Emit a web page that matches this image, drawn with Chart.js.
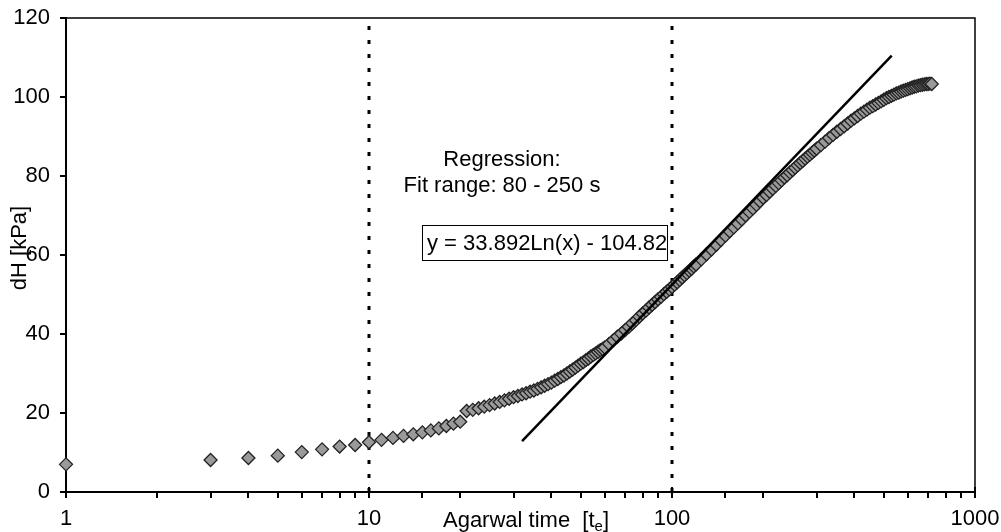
<!DOCTYPE html>
<html>
<head>
<meta charset="utf-8">
<script src="https://cdn.jsdelivr.net/npm/chart.js@4/dist/chart.umd.min.js"></script>
<style>
  html, body { margin: 0; padding: 0; background: #fff; }
  #wrap { width: 1001px; height: 532px; position: relative; }
</style>
</head>
<body>
<div id="wrap"><canvas id="c" width="1001" height="532"></canvas></div>
<script>
// ---- data ----
const times = [1,3,4,5,6,7,8,9,10,11,12,13,14,15,16,17,18,19,20,21,22,23,24,25,26,27,28,29,30,
  31,32,33,34,35,36,37,38,39,40,41,42,43,44,45,46,47,48,49,50,51,52,53,54,55,56,57,58,59,60,
  62,64,66,68,70,72,74,76,78,80,82,84,86,88,90,92,94,96,98,100,102,104,106,108,110,112,114,116,118,120,
  125,130,135,140,145,150,155,160,165,170,175,180,185,190,195,200,205,210,215,220,225,230,235,240,245,250,255,260,265,270,275,280,285,290,295,300,
  310,320,330,340,350,360,370,380,390,400,410,420,430,440,450,460,470,480,490,500,510,520,530,540,550,560,570,580,590,600,610,620,630,640,650,660,670,680,690,700,710,720];
const dH = [7.0,8.1,8.6,9.2,10.1,10.8,11.5,11.9,12.6,
  13.2,13.7,14.2,14.6,15.1,15.6,16.1,16.7,17.3,17.8,
  20.5,20.8,21.2,21.6,22.0,22.4,22.8,23.2,23.6,24.0,
  24.3,24.7,25.0,25.4,25.7,26.1,26.5,26.9,27.3,27.7,28.2,28.6,29.1,29.5,30.0,30.5,31.0,31.5,32.0,32.5,32.9,33.4,33.8,34.3,34.7,35.1,35.5,35.9,36.2,36.6,
  37.5,38.4,39.3,40.1,41.0,41.8,42.7,43.5,44.4,45.2,45.9,46.7,47.4,48.1,48.8,49.4,50.1,50.7,51.3,51.9,52.5,53.1,53.7,54.3,54.9,55.4,56.0,56.5,57.1,57.6,
  58.9,60.2,61.4,62.6,63.8,64.9,66.0,67.0,68.0,69.0,70.0,70.9,71.8,72.7,73.6,74.5,75.2,76.0,76.8,77.5,78.2,78.9,79.6,80.2,80.9,81.5,82.1,82.7,83.3,83.8,84.4,84.9,85.4,85.9,86.4,86.9,
  87.8,88.7,89.6,90.4,91.2,91.9,92.6,93.3,94.0,94.6,95.2,95.8,96.3,96.8,97.3,97.7,98.1,98.5,98.9,99.3,99.7,100.0,100.3,100.6,100.9,101.1,101.4,101.6,101.8,102.0,102.2,102.4,102.6,102.7,102.9,103.0,103.1,103.2,103.3,103.3,103.4,103.3];
// regression trend line end points (as drawn)
const fitT = [32, 531];
const fitDH = [12.9, 110.5];
// vertical fit-range marker lines
const markerT = [10, 100];
const markerDH = [0, 120];
// axis ticks and labels
const xMajor = [1, 10, 100, 1000];
const xTickLabels = ['1', '10', '100', '1000'];
const yTicks = [0, 20, 40, 60, 80, 100, 120];
const yTitle = 'dH [kPa]';
const xTitleMain = 'Agarwal time  [t';
const xTitleSub = 'e';
const xTitleEnd = ']';
const noteLines = ['Regression:', 'Fit range: 80 - 250 s'];
const equation = 'y = 33.892Ln(x) - 104.82';

const FONT = '"Liberation Sans", Arial, sans-serif';

const seriesPts = times.map((t, i) => ({ x: t, y: dH[i] }));
const fitPts = fitT.map((t, i) => ({ x: t, y: fitDH[i] }));
const markerSets = markerT.map(t => markerDH.map(v => ({ x: t, y: v })));

const annot = {
  id: 'annot',
  afterDraw(chart) {
    const ctx = chart.ctx;
    const area = chart.chartArea;
    const xs = chart.scales.x;
    ctx.save();
    // frame top/right
    ctx.strokeStyle = '#000';
    ctx.lineWidth = 1.5;
    ctx.beginPath();
    ctx.moveTo(area.left, area.top);
    ctx.lineTo(area.right, area.top);
    ctx.lineTo(area.right, area.bottom);
    ctx.stroke();
    // major ticks crossing the axis
    ctx.lineWidth = 2;
    xMajor.forEach(v => {
      const px = Math.round(xs.getPixelForValue(v));
      ctx.beginPath();
      ctx.moveTo(px, area.bottom - 5);
      ctx.lineTo(px, area.bottom);
      ctx.stroke();
    });
    ctx.fillStyle = '#000';
    ctx.font = '22px ' + FONT;
    // x title with subscript
    ctx.textBaseline = 'alphabetic';
    ctx.textAlign = 'left';
    const mainW = ctx.measureText(xTitleMain).width;
    ctx.font = '15px ' + FONT;
    const subW = ctx.measureText(xTitleSub).width;
    ctx.font = '22px ' + FONT;
    const endW = ctx.measureText(xTitleEnd).width;
    const total = mainW + subW + endW;
    const x0 = 526 - total / 2;
    const base = 527;
    ctx.fillText(xTitleMain, x0, base);
    ctx.font = '15px ' + FONT;
    ctx.fillText(xTitleSub, x0 + mainW, base + 4);
    ctx.font = '22px ' + FONT;
    ctx.fillText(xTitleEnd, x0 + mainW + subW, base);
    // y title
    ctx.save();
    ctx.translate(20, 248);
    ctx.rotate(-Math.PI / 2);
    ctx.textAlign = 'center';
    ctx.textBaseline = 'middle';
    ctx.fillText(yTitle, 0, 0);
    ctx.restore();
    // notes
    ctx.textAlign = 'center';
    ctx.textBaseline = 'middle';
    ctx.fillText(noteLines[0], 502, 160);
    ctx.fillText(noteLines[1], 502, 186);
    // equation box
    ctx.lineWidth = 1;
    ctx.strokeStyle = '#000';
    ctx.strokeRect(422.5, 225.5, 245, 35);
    ctx.textAlign = 'left';
    ctx.fillText(equation, 427, 244);
    ctx.restore();
  }
};

new Chart(document.getElementById('c'), {
  type: 'scatter',
  data: {
    datasets: [
      {
        label: 'marker10',
        data: markerSets[0],
        showLine: true,
        borderColor: '#000',
        borderWidth: 3,
        borderDash: [4, 10],
        pointRadius: 0,
        order: 3
      },
      {
        label: 'marker100',
        data: markerSets[1],
        showLine: true,
        borderColor: '#000',
        borderWidth: 3,
        borderDash: [4, 10],
        pointRadius: 0,
        order: 3
      },
      {
        label: 'dH',
        data: seriesPts,
        showLine: false,
        pointStyle: 'rectRot',
        pointRadius: 6.5,
        backgroundColor: '#9a9a9a',
        borderColor: '#222',
        borderWidth: 1.3,
        clip: false,
        order: 2
      },
      {
        label: 'fit',
        data: fitPts,
        showLine: true,
        borderColor: '#000',
        borderWidth: 2.5,
        pointRadius: 0,
        order: 1
      }
    ]
  },
  options: {
    responsive: true,
    maintainAspectRatio: false,
    animation: false,
    devicePixelRatio: 1,
    layout: { padding: { top: 18, right: 26, left: 0, bottom: 0 } },
    plugins: {
      legend: { display: false },
      tooltip: { enabled: false }
    },
    scales: {
      x: {
        type: 'logarithmic',
        min: 1,
        max: 1000,
        border: { display: true, color: '#000', width: 2 },
        grid: { display: true, drawOnChartArea: false, drawTicks: true, tickLength: 6, color: '#000', lineWidth: 2 },
        ticks: {
          autoSkip: false,
          maxRotation: 0,
          minRotation: 0,
          padding: 8,
          color: '#000',
          font: { family: FONT, size: 22 },
          callback: function (value) {
            const i = xMajor.indexOf(Number(value));
            return i >= 0 ? xTickLabels[i] : '';
          }
        },
        afterFit(scale) { scale.height = 40; scale.paddingRight = 0; scale.paddingLeft = 0; }
      },
      y: {
        min: 0,
        max: 120,
        border: { display: true, color: '#000', width: 2 },
        grid: { display: true, drawOnChartArea: false, drawTicks: true, tickLength: 6, color: '#000', lineWidth: 2 },
        afterBuildTicks(scale) { scale.ticks = yTicks.map(v => ({ value: v })); },
        ticks: {
          padding: 10,
          color: '#000',
          font: { family: FONT, size: 22 }
        },
        afterFit(scale) { scale.width = 66; scale.paddingTop = 0; scale.paddingBottom = 0; }
      }
    }
  },
  plugins: [annot]
});
</script>
</body>
</html>
